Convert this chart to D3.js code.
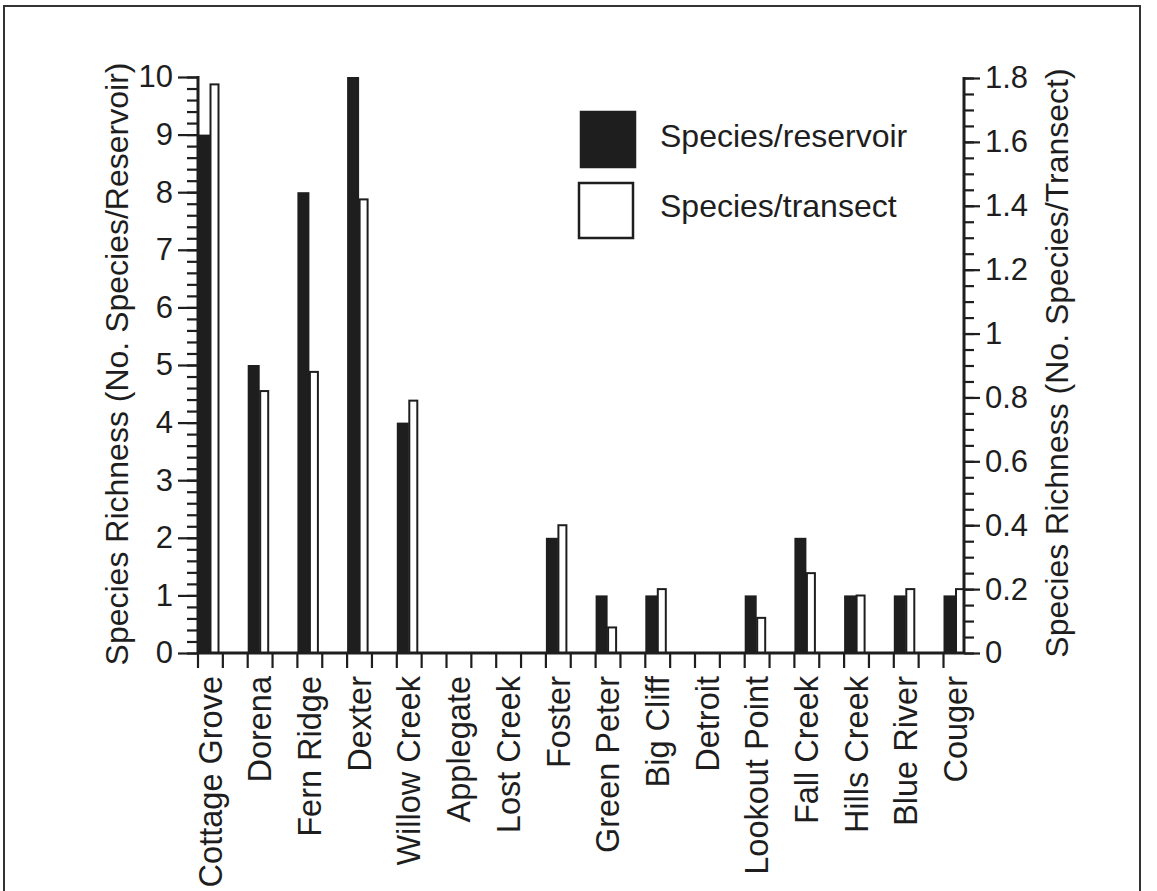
<!DOCTYPE html>
<html>
<head>
<meta charset="utf-8">
<script src="https://cdn.jsdelivr.net/npm/d3@7"></script>
<style>
  body { margin: 0; background: #fff; }
  svg { display: block; font-family: "Liberation Sans", Arial, Helvetica, sans-serif; }
</style>
</head>
<body>
<svg id="chart" width="1157" height="891"></svg>
<script>
const reservoirs = ["Cottage Grove", "Dorena", "Fern Ridge", "Dexter", "Willow Creek",
    "Applegate", "Lost Creek", "Foster", "Green Peter", "Big Cliff", "Detroit",
    "Lookout Point", "Fall Creek", "Hills Creek", "Blue River", "Couger"];
const perReservoir = [9, 5, 8, 10, 4, 0, 0, 2, 1, 1, 0, 1, 2, 1, 1, 1];
const perTransect = [1.78, 0.82, 0.88, 1.42, 0.79, 0, 0, 0.40, 0.08, 0.20, 0, 0.11, 0.25, 0.18, 0.20, 0.20];
const leftTicks = d3.range(0, 11, 1);
const rightTicks = d3.range(0, 1.81, 0.2);
const seriesNames = ["Species/reservoir", "Species/transect"];

const svg = d3.select("#chart");
const ink = "#1e1e1e";

// outer frame of the scanned figure
svg.append("rect")
    .attr("x", 4).attr("y", 6)
    .attr("width", 1136).attr("height", 900)
    .attr("fill", "none").attr("stroke", "#333").attr("stroke-width", 2);

const plotLeft = 198, plotRight = 964, plotTop = 77, plotBottom = 653;
const step = 49.7;

const x = d3.scaleBand()
    .domain(reservoirs)
    .range([plotLeft, plotLeft + step * reservoirs.length]);

const yL = d3.scaleLinear().domain([0, 10]).range([plotBottom, plotTop]);
const yR = d3.scaleLinear().domain([0, 1.8]).range([plotBottom, plotTop + 1]);

// bars
const blackW = 12, whiteW = 9;
svg.append("g").selectAll("rect")
    .data(reservoirs)
    .join("rect")
    .attr("x", d => x(d))
    .attr("y", (d, i) => yL(perReservoir[i]))
    .attr("width", blackW)
    .attr("height", (d, i) => plotBottom - yL(perReservoir[i]))
    .attr("fill", ink);

svg.append("g").selectAll("rect")
    .data(reservoirs.filter((d, i) => perTransect[i] > 0))
    .join("rect")
    .attr("x", d => x(d) + blackW + 0.5)
    .attr("y", d => yR(perTransect[reservoirs.indexOf(d)]))
    .attr("width", whiteW - 1)
    .attr("height", d => plotBottom - yR(perTransect[reservoirs.indexOf(d)]))
    .attr("fill", "#fff")
    .attr("stroke", ink)
    .attr("stroke-width", 2);

// left axis
const gL = svg.append("g").attr("transform", `translate(${plotLeft},0)`);
gL.append("g").call(d3.axisLeft(yL).tickValues(d3.range(0, 10.01, 0.2)).tickSize(11).tickFormat(""));
gL.append("g").call(d3.axisLeft(yL).tickValues(leftTicks).tickSize(20).tickPadding(5).tickFormat(d3.format("d")));
gL.selectAll("line").attr("stroke", ink).attr("stroke-width", 2.2);
gL.selectAll(".domain").remove();
gL.append("line").attr("y1", plotTop - 1).attr("y2", plotBottom + 1).attr("stroke", ink).attr("stroke-width", 3);
gL.selectAll("text").attr("font-size", 31).attr("fill", ink);

// right axis
const gR = svg.append("g").attr("transform", `translate(${plotRight},0)`);
gR.append("g").call(d3.axisRight(yR).tickValues(d3.range(0, 1.801, 0.05)).tickSize(10).tickFormat(""));
gR.append("g").call(d3.axisRight(yR).tickValues(rightTicks).tickSize(16).tickPadding(5).tickFormat(d3.format("~g")));
gR.selectAll("line").attr("stroke", ink).attr("stroke-width", 2.2);
gR.selectAll(".domain").remove();
gR.append("line").attr("y1", yR(1.8) - 1).attr("y2", plotBottom + 1).attr("stroke", ink).attr("stroke-width", 3);
gR.selectAll("text").attr("font-size", 31).attr("fill", ink);
svg.selectAll("g[font-family]").attr("font-family", null).attr("font-size", null);

// x axis: ticks every half category
const gX = svg.append("g").attr("transform", `translate(0,${plotBottom})`);
gX.selectAll("line.tick")
    .data(d3.range(0, 31))
    .join("line")
    .attr("class", "tick")
    .attr("x1", k => plotLeft + k * x.step() / 2)
    .attr("x2", k => plotLeft + k * x.step() / 2)
    .attr("y1", 0).attr("y2", 15)
    .attr("stroke", ink).attr("stroke-width", 2.2);
gX.append("line")
    .attr("x1", plotLeft).attr("x2", plotRight)
    .attr("stroke", ink).attr("stroke-width", 3);

gX.selectAll("text")
    .data(reservoirs)
    .join("text")
    .attr("transform", d => `translate(${x(d) + 10},23) rotate(-90)`)
    .attr("text-anchor", "end")
    .attr("dy", "0.42em")
    .attr("font-size", 32.5)
    .attr("fill", ink)
    .text(d => d);

// axis titles
svg.append("text")
    .attr("transform", `translate(128,${(plotTop + plotBottom) / 2 - 1}) rotate(-90)`)
    .attr("text-anchor", "middle")
    .attr("font-size", 32)
    .attr("fill", ink)
    .text("Species Richness (No. Species/Reservoir)");

svg.append("text")
    .attr("transform", `translate(1068,${(plotTop + plotBottom) / 2 - 2}) rotate(-90)`)
    .attr("text-anchor", "middle")
    .attr("font-size", 32)
    .attr("fill", ink)
    .text("Species Richness (No. Species/Transect)");

// legend
const legend = svg.append("g");
const legendRows = [
    { name: seriesNames[0], fill: ink, rx: 581, ry: 112 },
    { name: seriesNames[1], fill: "#fff", rx: 579, ry: 183 }
];
legendRows.forEach((r, i) => {
    legend.append("rect")
        .attr("x", r.rx).attr("y", r.ry)
        .attr("width", 54).attr("height", 55)
        .attr("fill", r.fill)
        .attr("stroke", ink).attr("stroke-width", 2.5);
    legend.append("text")
        .attr("x", 660).attr("y", 147 + i * 70)
        .attr("font-size", 32)
        .attr("fill", ink)
        .text(r.name);
});
</script>
</body>
</html>
